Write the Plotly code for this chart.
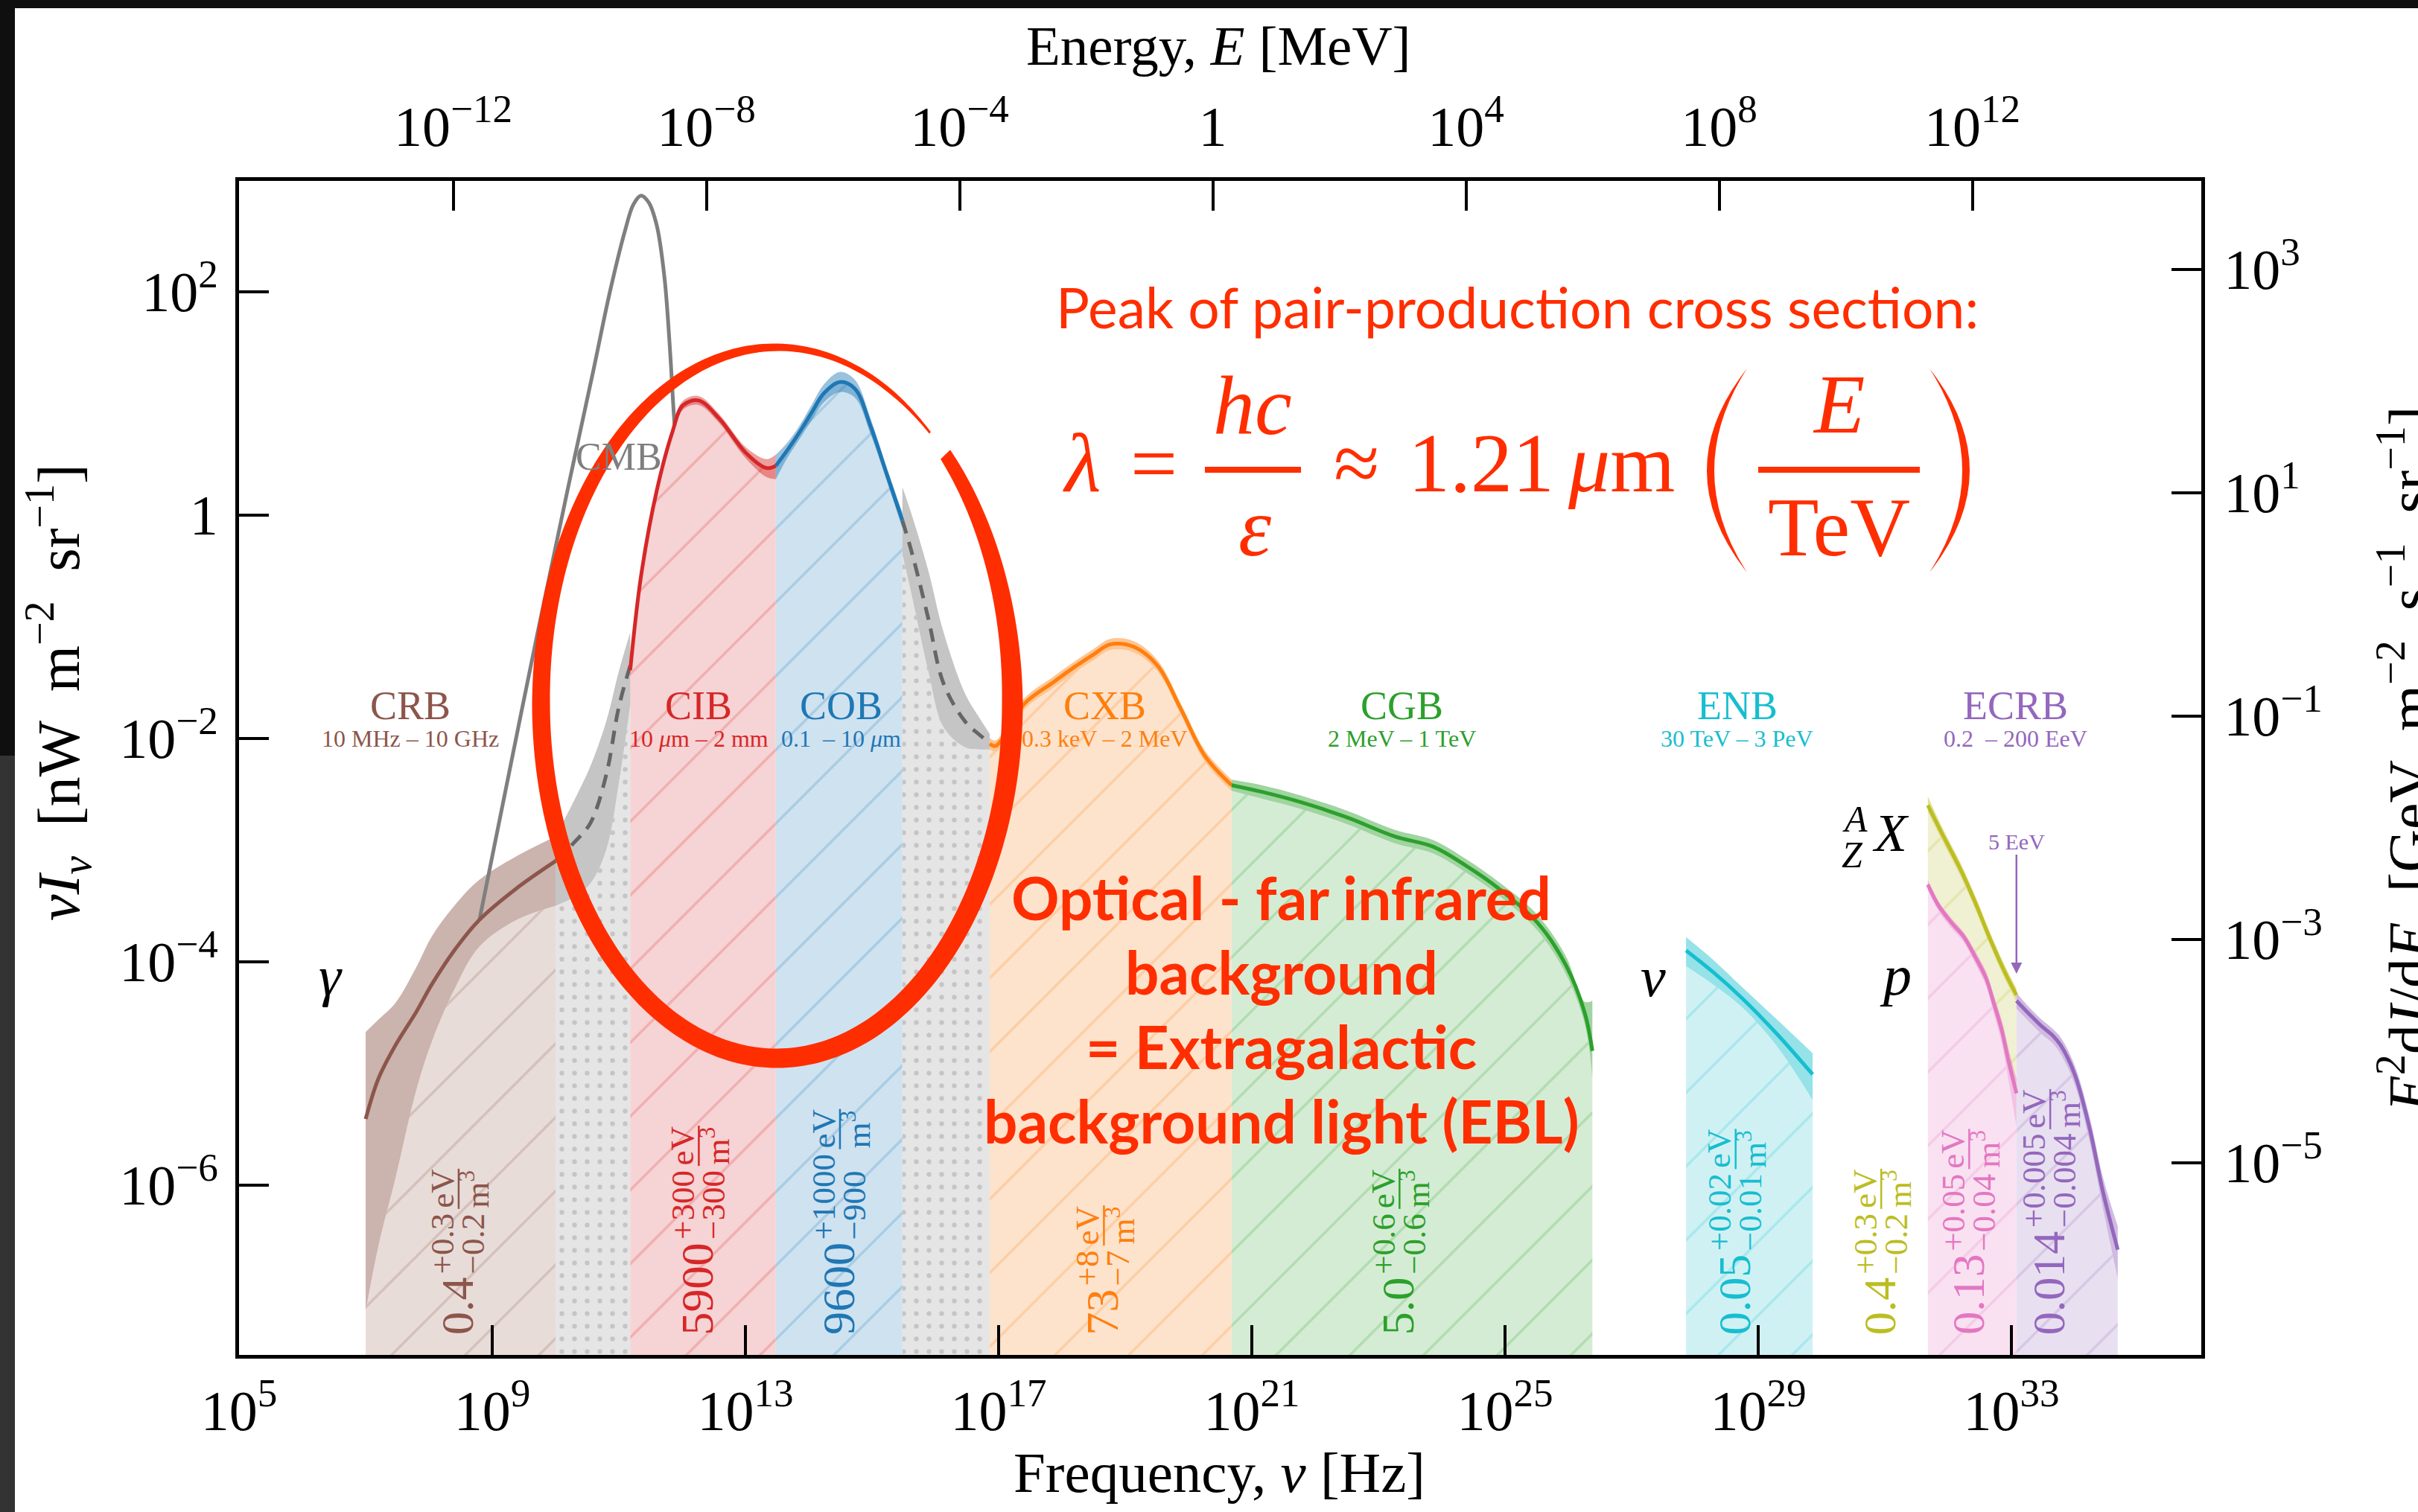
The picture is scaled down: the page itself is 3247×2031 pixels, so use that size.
import numpy as np
import plotly.graph_objects as go

# ---------------- data (log10 values) ----------------
# x: log10(nu / Hz) ; y: log10(nu I_nu / nW m^-2 sr^-1)
crb_x  = [7.0, 7.2, 7.47, 7.8, 8.05, 8.4, 8.79, 9.37, 10.0]
crb_y  = [-5.41, -5.05, -4.75, -4.45, -4.20, -3.90, -3.63, -3.35, -3.10]
crb_hi = [-4.63, -4.52, -4.37, -4.05, -3.77, -3.50, -3.27, -3.06, -2.88]
crb_lo = [-7.13, -6.55, -5.94, -5.15, -4.71, -4.25, -3.87, -3.63, -3.50]

gap1_x  = [10.0, 10.3, 10.55, 10.8, 11.0, 11.18]
gap1_y  = [-3.10, -2.93, -2.76, -2.33, -1.72, -1.35]
gap1_hi = [-2.88, -2.55, -2.25, -1.85, -1.40, -1.05]
gap1_lo = [-3.50, -3.42, -3.30, -3.00, -2.40, -1.70]

cmb_x = [8.8, 9.12, 9.7, 10.2, 10.6, 10.86, 11.1, 11.23, 11.35, 11.47, 11.6, 11.72, 11.8, 11.86, 11.88]
cmb_y = [-3.62, -2.72, -1.10, 0.25, 1.30, 2.00, 2.55, 2.78, 2.86, 2.80, 2.59, 2.13, 1.55, 0.98, 0.80]

cib_x  = [11.18, 11.35, 11.6, 11.85, 12.01, 12.26, 12.59, 13.0, 13.33, 13.48]
cib_y  = [-1.39, -0.55, 0.22, 0.75, 0.98, 1.025, 0.86, 0.56, 0.42, 0.44]
cib_hi = [-1.34, -0.51, 0.26, 0.79, 1.02, 1.065, 0.90, 0.61, 0.50, 0.54]
cib_lo = [-1.45, -0.60, 0.18, 0.71, 0.94, 0.985, 0.82, 0.51, 0.34, 0.32]

cob_x  = [13.48, 13.65, 13.82, 14.05, 14.24, 14.49, 14.73, 14.98, 15.23, 15.48]
cob_y  = [0.44, 0.57, 0.71, 0.92, 1.09, 1.19, 1.13, 0.79, 0.37, -0.05]
cob_hi = [0.54, 0.64, 0.77, 0.99, 1.17, 1.28, 1.21, 0.86, 0.43, 0.02]
cob_lo = [0.32, 0.50, 0.65, 0.85, 1.01, 1.10, 1.05, 0.72, 0.31, -0.12]

gap2_x  = [15.48, 15.64, 15.89, 16.13, 16.47, 16.7, 16.86]
gap2_y  = [-0.05, -0.36, -0.93, -1.51, -1.85, -1.97, -2.04]
gap2_hi = [0.25, -0.02, -0.50, -1.05, -1.60, -1.82, -1.96]
gap2_lo = [-0.35, -0.75, -1.40, -1.90, -2.08, -2.10, -2.10]

cxb_x  = [16.86, 16.95, 17.05, 17.41, 17.86, 18.23, 18.5, 18.76, 19.13, 19.51, 19.88, 20.26, 20.68]
cxb_y  = [-2.05, -2.07, -2.01, -1.69, -1.50, -1.35, -1.25, -1.16, -1.18, -1.35, -1.74, -2.16, -2.42]
cxb_hi = [-2.00, -2.02, -1.96, -1.64, -1.45, -1.30, -1.20, -1.11, -1.13, -1.30, -1.69, -2.11, -2.37]
cxb_lo = [-2.10, -2.12, -2.06, -1.74, -1.55, -1.40, -1.30, -1.21, -1.23, -1.40, -1.79, -2.21, -2.47]

cgb_x  = [20.68, 21.16, 21.76, 22.51, 23.26, 23.86, 24.38, 24.91, 25.51, 25.96, 26.26, 26.38]
cgb_y  = [-2.42, -2.48, -2.57, -2.71, -2.88, -2.97, -3.14, -3.35, -3.65, -4.03, -4.46, -4.80]
cgb_hi = [-2.37, -2.42, -2.51, -2.65, -2.82, -2.91, -3.08, -3.29, -3.58, -3.95, -4.36, -4.35]
cgb_lo = [-2.47, -2.54, -2.63, -2.77, -2.94, -3.03, -3.20, -3.41, -3.72, -4.11, -4.56, -5.05]

enb_x  = [27.86, 28.3, 28.75, 29.3, 29.86]
enb_y  = [-3.90, -4.10, -4.33, -4.65, -5.01]
enb_hi = [-3.78, -3.99, -4.23, -4.52, -4.82]
enb_lo = [-4.04, -4.21, -4.41, -4.76, -5.24]

olv_x  = [31.68, 31.9, 32.2, 32.45, 32.65, 32.9, 33.08]
olv_y  = [-2.60, -2.85, -3.18, -3.50, -3.78, -4.10, -4.30]
olv_hi = [-2.52, -2.79, -3.12, -3.44, -3.72, -4.04, -4.24]
olv_lo = [-2.66, -2.91, -3.24, -3.56, -3.84, -4.16, -4.36]

pnk_x  = [31.68, 31.85, 32.05, 32.25, 32.42, 32.6, 32.72, 32.85, 32.95, 33.08]
pnk_y  = [-3.31, -3.50, -3.65, -3.78, -3.95, -4.15, -4.37, -4.62, -4.88, -5.18]
pnk_hi = [-3.27, -3.46, -3.61, -3.74, -3.90, -4.09, -4.30, -4.53, -4.77, -5.05]
pnk_lo = [-3.36, -3.55, -3.70, -3.83, -4.01, -4.22, -4.46, -4.74, -5.05, -5.48]

pur_x  = [33.08, 33.3, 33.48, 33.65, 33.78, 34.0, 34.23, 34.45, 34.68]
pur_y  = [-4.35, -4.48, -4.58, -4.66, -4.75, -5.01, -5.48, -6.07, -6.58]
pur_hi = [-4.28, -4.42, -4.52, -4.60, -4.68, -4.93, -5.38, -5.94, -6.37]
pur_lo = [-4.42, -4.55, -4.65, -4.73, -4.83, -5.10, -5.60, -6.22, -6.84]

# band names / energy ranges
band_names  = ['CRB', 'CIB', 'COB', 'CXB', 'CGB', 'ENB', 'ECRB']
band_ranges = ['10 MHz – 10 GHz', '10 <i>μ</i>m – 2 mm', '0.1  – 10 <i>μ</i>m',
               '0.3 keV – 2 MeV', '2 MeV – 1 TeV', '30 TeV – 3 PeV', '0.2  – 200 EeV']
band_name_nu = [7.70, 12.26, 14.51, 18.68, 23.37, 28.67, 33.07]

# energy densities (rotated labels)
dens_nu  = [8.446, 12.24, 14.47, 18.64, 23.31, 28.62, 30.92, 32.31, 33.59]
dens_val = ['0.4', '5900', '9600', '73', '5.0', '0.05', '0.4', '0.13', '0.014']
dens_up  = ['+0.3', '+300', '+1000', '+8', '+0.6', '+0.02', '+0.3', '+0.05', '+0.005']
dens_dn  = ['−0.2', '−300', '−900', '−7', '−0.6', '−0.01', '−0.2', '−0.04', '−0.004']

# axis ticks
nu_ticks = [5, 9, 13, 17, 21, 25, 29, 33]
e_ticks = [-12, -8, -4, 0, 4, 8, 12]
yl_ticks = [2, 0, -2, -4, -6]
yr_ticks = [3, 1, -1, -3, -5]

# ---------------- style / layout constants ----------------
BROWN, RED, BLUE, ORANGE, GREEN = '#8c564b', '#d62728', '#1f77b4', '#ff7f0e', '#2ca02c'
CYAN, PURPLE, PINK, OLIVE, GRAY = '#17becf', '#9467bd', '#e377c2', '#bcbd22', '#7f7f7f'
dens_col = [BROWN, RED, BLUE, ORANGE, GREEN, CYAN, OLIVE, PINK, PURPLE]
name_col = [BROWN, RED, BLUE, ORANGE, GREEN, CYAN, PURPLE]
HL = '#ff2e00'
SERIF = 'Liberation Serif'
SANS = 'Lato'

FIG_W, FIG_H = 3247, 2031
L, R, T, B = 321, 2956, 243, 1820
W, H = R - L, B - T
X_RANGE = [5, 36]
Y_RANGE = [-7.522, 2.991]
LOG_H_MEV = -20.3835
RIGHT_OFF = 0.80
FLOOR = -10.0


def pw(a):
    return np.power(10.0, np.asarray(a, dtype=float))


def xp(px):
    return (px - L) / W


def yp(py):
    return (B - py) / H


def nu_px(lv):
    return L + (lv - X_RANGE[0]) / (X_RANGE[1] - X_RANGE[0]) * W


def rgba(hexc, a):
    h = hexc.lstrip('#')
    return 'rgba(%d,%d,%d,%.3f)' % (int(h[0:2], 16), int(h[2:4], 16), int(h[4:6], 16), a)


fig = go.Figure()


def hatch(color):
    return dict(shape='/', fgcolor=rgba(color, 0.42), size=70, solidity=0.05, fillmode='overlay')


DOTS = dict(shape='.', fgcolor='#a6a6a6', size=17, solidity=0.11, fillmode='overlay')


def add_region(xs, top, light, pattern, base_x=None, base_y=None):
    if base_x is None:
        bx, by, bs = [xs[0], xs[-1]], [FLOOR, FLOOR], 'linear'
    else:
        bx, by, bs = base_x, base_y, 'spline'
    fig.add_trace(go.Scatter(x=pw(bx), y=pw(by), mode='lines', line=dict(width=0, shape=bs),
                             hoverinfo='skip', showlegend=False))
    fig.add_trace(go.Scatter(x=pw(xs), y=pw(top), mode='lines', line=dict(width=0, shape='spline'),
                             fill='tonexty', fillcolor=light, fillpattern=pattern,
                             hoverinfo='skip', showlegend=False))


def add_band(xs, lo, hi, color, alpha=0.45):
    fig.add_trace(go.Scatter(x=pw(xs), y=pw(lo), mode='lines', line=dict(width=0, shape='spline'),
                             hoverinfo='skip', showlegend=False))
    fig.add_trace(go.Scatter(x=pw(xs), y=pw(hi), mode='lines', line=dict(width=0, shape='spline'),
                             fill='tonexty', fillcolor=rgba(color, alpha),
                             hoverinfo='skip', showlegend=False))


def add_line(xs, ys, color, dash='solid', width=5):
    fig.add_trace(go.Scatter(x=pw(xs), y=pw(ys), mode='lines',
                             line=dict(width=width, color=color, shape='spline', dash=dash),
                             hoverinfo='skip', showlegend=False))


# light region fills
add_region(crb_x, crb_lo, '#e8dcd9', hatch(BROWN))
add_region(gap1_x, gap1_lo, '#e5e5e5', DOTS)
add_region(cib_x, cib_y, '#f6d3d4', hatch(RED))
add_region(cob_x, cob_y, '#cfe2f0', hatch(BLUE))
add_region(gap2_x, gap2_lo, '#e5e5e5', DOTS)
add_region(cxb_x, cxb_lo, '#fde3cc', hatch(ORANGE))
add_region(cgb_x, cgb_lo, '#d5ecd4', hatch(GREEN))
add_region(enb_x, enb_lo, '#d0f1f4', hatch(CYAN))
add_region(pnk_x, pnk_lo, '#f9e1f1', hatch(PINK))
add_region(olv_x, olv_lo, '#f0f0d2', hatch(OLIVE), base_x=pnk_x, base_y=pnk_y)
add_region(pur_x, pur_lo, '#e8e0f0', hatch(PURPLE))

# uncertainty bands
add_band(crb_x, crb_lo, crb_hi, BROWN)
add_band(gap1_x, gap1_lo, gap1_hi, GRAY)
add_band(cib_x, cib_lo, cib_hi, RED)
add_band(cob_x, cob_lo, cob_hi, BLUE)
add_band(gap2_x, gap2_lo, gap2_hi, GRAY)
add_band(cxb_x, cxb_lo, cxb_hi, ORANGE)
add_band(cgb_x, cgb_lo, cgb_hi, GREEN)
add_band(enb_x, enb_lo, enb_hi, CYAN)
add_band(olv_x, olv_lo, olv_hi, OLIVE)
add_band(pnk_x, pnk_lo, pnk_hi, PINK)
add_band(pur_x, pur_lo, pur_hi, PURPLE)

# CMB
add_line(cmb_x, cmb_y, GRAY, width=5)

# central curves
add_line(crb_x, crb_y, BROWN)
add_line(gap1_x, gap1_y, '#666666', dash='18px,12px')
add_line(cib_x, cib_y, RED)
add_line(cob_x, cob_y, BLUE)
add_line(gap2_x, gap2_y, '#666666', dash='18px,12px')
add_line(cxb_x, cxb_y, ORANGE)
add_line(cgb_x, cgb_y, GREEN)
add_line(enb_x, enb_y, CYAN)
add_line(olv_x, olv_y, OLIVE)
add_line(pnk_x, pnk_y, PINK)
add_line(pur_x, pur_y, PURPLE)

# dummy trace to activate secondary axes
fig.add_trace(go.Scatter(x=[1.0], y=[1.0], xaxis='x2', yaxis='y2', mode='markers',
                         marker=dict(opacity=0), hoverinfo='skip', showlegend=False))

# ---------------- annotations & shapes ----------------
annotations = []
shapes = []


def txt(text, px, py, size, color='black', angle=0, xanchor='center', yanchor='middle', family=SERIF, **kw):
    annotations.append(dict(text=text, x=xp(px), y=yp(py), xref='paper', yref='paper', showarrow=False,
                            font=dict(size=size, color=color, family=family), textangle=angle,
                            xanchor=xanchor, yanchor=yanchor, **kw))


def seg(x0, y0, x1, y1, color, width):
    shapes.append(dict(type='line', xref='paper', yref='paper', x0=xp(x0), y0=yp(y0), x1=xp(x1), y1=yp(y1),
                       line=dict(color=color, width=width), layer='above'))


ADV = {'.': 0.25, '+': 0.564, '−': 0.564}


def tlen(s, size):
    return sum(ADV.get(c, 0.5) for c in s) * size


def density_label(lv, val, up, dn, color):
    cx = nu_px(lv)
    F, f = 62, 45
    y0 = 1795
    txt(val, cx, y0, F, color, -90, 'center', 'bottom')
    u1 = y0 - tlen(val, F) - 4
    txt(up, cx - 20, u1, f, color, -90, 'center', 'bottom')
    txt(dn, cx + 21, u1, f, color, -90, 'center', 'bottom')
    u2 = u1 - max(tlen(up, f), tlen(dn, f)) - 8
    Lf = 54
    seg(cx + 2, u2, cx + 2, u2 - Lf, color, 2.5)
    txt('eV', cx - 20, u2 - Lf / 2, f, color, -90)
    txt('m<sup>3</sup>', cx + 24, u2 - Lf / 2, f, color, -90)


for i in range(len(dens_nu)):
    density_label(dens_nu[i], dens_val[i], dens_up[i], dens_dn[i], dens_col[i])

for i in range(len(band_names)):
    cx = nu_px(band_name_nu[i])
    txt(band_names[i], cx, 948, 54, name_col[i])
    txt(band_ranges[i], cx, 992, 32, name_col[i])

txt('CMB', 831, 613, 52, GRAY)
txt('<i>γ</i>', 444, 1311, 76)
txt('<i>ν</i>', 2220, 1312, 76)
txt('<i>p</i>', 2545, 1310, 76)
txt('<i>X</i>', 2539, 1119, 72)
txt('<i>A</i>', 2491, 1100, 50)
txt('<i>Z</i>', 2487, 1148, 50)

# 5 EeV arrow
annotations.append(dict(text='5 EeV', x=xp(nu_px(33.08)), y=yp(1308), xref='paper', yref='paper',
                        showarrow=True, ax=0, ay=-178, arrowhead=2, arrowsize=1.2, arrowwidth=2.5,
                        arrowcolor=PURPLE, font=dict(size=30, color=PURPLE, family=SERIF)))

# EBL text
ebl_lines = ['Optical - far infrared', 'background', '= Extragalactic', 'background light (EBL)']
for k, line in enumerate(ebl_lines):
    txt('<b>%s</b>' % line, 1721, 1205 + 100 * k, 80, HL, family=SANS)

# Pair production formula
txt('Peak of pair-production cross section:', 2037, 412, 75, HL, family=SANS)
txt('<i>λ</i>', 1453, 622, 112, HL)
txt('=', 1549, 622, 112, HL)
seg(1618, 631, 1747, 631, HL, 8)
txt('<i>hc</i>', 1682, 545, 112, HL)
txt('<i>ε</i>', 1685, 708, 112, HL)
txt('≈', 1822, 622, 112, HL)
txt('1.21', 1989, 622, 112, HL)
txt('<i>μ</i>m', 2177, 622, 112, HL)
txt('<i>E</i>', 2469, 543, 112, HL)
seg(2361, 631, 2578, 631, HL, 8)
txt('TeV', 2469, 708, 112, HL)


def paren(x_tip, x_out, x_in, ytop, ybot):
    ym = 0.5 * (ytop + ybot)
    c_out = 2 * x_out - x_tip
    c_in = 2 * x_in - x_tip
    path = 'M %f,%f Q %f,%f %f,%f Q %f,%f %f,%f Z' % (
        xp(x_tip), yp(ytop), xp(c_out), yp(ym), xp(x_tip), yp(ybot),
        xp(c_in), yp(ym), xp(x_tip), yp(ytop))
    shapes.append(dict(type='path', xref='paper', yref='paper', path=path, fillcolor=HL,
                       line=dict(width=0), layer='above'))


paren(2346, 2292, 2302, 495, 769)
paren(2591, 2645, 2635, 495, 769)

# hand-drawn ellipse
ell_cx, ell_cy, ell_a, ell_b = 1043, 944, 316.5, 477.5
ell_th = [-310.6, -300, -270, -230, -180, -90, 0, 44.3]
ell_w = [3, 6, 10, 17, 24, 26, 28, 18]
th = np.linspace(44.3, -310.6, 300)
wv = np.interp(th, ell_th, ell_w)
rad = np.deg2rad(th)
ox = ell_cx + (ell_a + wv / 2) * np.cos(rad)
oy = ell_cy - (ell_b + wv / 2) * np.sin(rad)
ix = ell_cx + (ell_a - wv / 2) * np.cos(rad)
iy = ell_cy - (ell_b - wv / 2) * np.sin(rad)
pts = list(zip(ox, oy)) + list(zip(ix[::-1], iy[::-1]))
ell_path = 'M ' + ' L '.join('%f,%f' % (xp(a), yp(b)) for a, b in pts) + ' Z'
shapes.append(dict(type='path', xref='paper', yref='paper', path=ell_path, fillcolor=HL,
                   line=dict(width=0), layer='above'))

# axis titles
txt('Energy, <i>E</i> [MeV]', 1636, 62, 75)
txt('Frequency, <i>ν</i> [Hz]', 1637, 1978, 77)
txt('<i>νI<sub>ν</sub></i>  [nW  m<sup>−2</sup>  sr<sup>−1</sup>]', 78, 930, 80, angle=-90)
txt('<i>E</i><sup>2</sup>d<i>I</i>/d<i>E</i>  [GeV  m<sup>−2</sup>  s<sup>−1</sup>  sr<sup>−1</sup>]',
    3229, 1020, 80, angle=-90)

# screenshot borders
shapes.append(dict(type='rect', xref='paper', yref='paper', x0=xp(0), x1=xp(FIG_W), y0=yp(0), y1=yp(11),
                   fillcolor='#0f0f0f', line=dict(width=0), layer='above'))
shapes.append(dict(type='rect', xref='paper', yref='paper', x0=xp(0), x1=xp(20), y0=yp(0), y1=yp(1015),
                   fillcolor='#0f0f0f', line=dict(width=0), layer='above'))
shapes.append(dict(type='rect', xref='paper', yref='paper', x0=xp(0), x1=xp(20), y0=yp(1015), y1=yp(FIG_H),
                   fillcolor='#333333', line=dict(width=0), layer='above'))


def pow_label(e):
    if e == 0:
        return '1'
    return '10<sup>%s</sup>' % (str(e) if e > 0 else '−%d' % (-e))


tick_font = dict(family=SERIF, size=76, color='black')
common = dict(type='log', showgrid=False, zeroline=False, showline=True, linewidth=5, linecolor='black',
              ticks='inside', ticklen=40, tickwidth=4, tickcolor='black', tickfont=tick_font,
              showexponent='all')

fig.update_layout(
    width=FIG_W, height=FIG_H,
    margin=dict(l=L, r=FIG_W - R, t=T, b=FIG_H - B, pad=0),
    template='none', paper_bgcolor='white', plot_bgcolor='white', showlegend=False,
    xaxis=dict(range=X_RANGE, tickvals=pw(nu_ticks), ticktext=[pow_label(e) for e in nu_ticks],
               ticklabelstandoff=5, **common),
    xaxis2=dict(overlaying='x', side='top', anchor='y',
                range=[X_RANGE[0] + LOG_H_MEV, X_RANGE[1] + LOG_H_MEV],
                tickvals=pw(e_ticks), ticktext=[pow_label(e) for e in e_ticks],
                ticklabelstandoff=12, **common),
    yaxis=dict(range=Y_RANGE, tickvals=pw(yl_ticks), ticktext=[pow_label(e) for e in yl_ticks],
               ticklabelstandoff=8, **common),
    yaxis2=dict(overlaying='y', side='right', anchor='x',
                range=[Y_RANGE[0] + RIGHT_OFF, Y_RANGE[1] + RIGHT_OFF],
                tickvals=pw(yr_ticks), ticktext=[pow_label(e) for e in yr_ticks],
                ticklabelstandoff=10, **common),
    annotations=annotations, shapes=shapes,
)

fig.write_html('out.html')
